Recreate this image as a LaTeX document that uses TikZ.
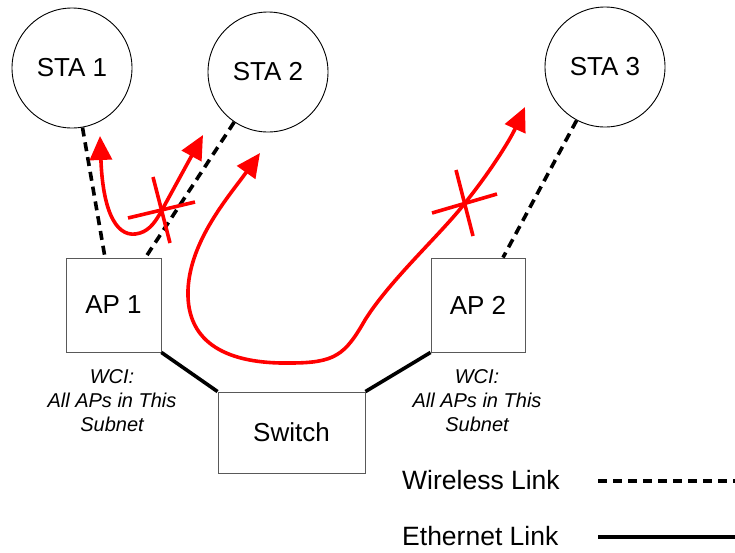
\documentclass[tikz,border=0pt]{standalone}
\usepackage{fontspec}
\setmainfont{Liberation Sans}
\usetikzlibrary{arrows.meta}
\begin{document}
\begin{tikzpicture}[x=1pt,y=-1pt,
  sta/.style={draw=black,line width=0.9pt,circle,minimum size=120pt,inner sep=0pt,font=\fontsize{26}{30}\selectfont},
  box/.style={draw=black!65,line width=0.9pt,rectangle,inner sep=0pt,font=\fontsize{26}{30}\selectfont},
  wireless/.style={line width=3.6pt,dash pattern=on 9pt off 6pt},
  ether/.style={line width=3.6pt},
  redarrow/.style={red,line width=3.6pt,{Triangle[length=24pt,width=22pt]}-{Triangle[length=24pt,width=22pt]}},
  cross/.style={red,line width=3.6pt},
  wci/.style={font=\fontsize{20}{24}\selectfont\itshape,align=center,inner sep=0pt},
  legendtext/.style={font=\fontsize{26.5}{30}\selectfont,anchor=west,inner sep=0pt}]
\useasboundingbox (0,0) rectangle (735,552);

\node[sta] (sta1) at (72,68) {STA 1};
\node[sta] (sta2) at (268,72) {STA 2};
\node[sta] (sta3) at (605,67) {STA 3};

\node[box,minimum width=95pt,minimum height=94pt] (ap1) at (113.5,305) {AP 1};
\node[box,minimum width=94pt,minimum height=94pt] (ap2) at (478,305) {AP 2};
\node[box,minimum width=147pt,minimum height=81pt] (sw) at (291.5,432.5) {Switch};

\node[wci] (wci1) at (112,401) {WCI:\\All APs in This\\Subnet};
\node[wci] (wci2) at (477,401) {WCI:\\All APs in This\\Subnet};

% wireless links
\draw[wireless] (sta1.-80) -- ([xshift=-8.5pt]ap1.north);
\draw[wireless] (sta2.-124) -- ([xshift=-16pt]ap1.north east);
\draw[wireless] (sta3.-118) -- ([xshift=25pt]ap2.north);

% ethernet links
\draw[ether] (ap1.south east) -- (sw.north west);
\draw[ether] (ap2.south west) -- (sw.north east);

% red arrows
\coordinate (r1a) at (100,136);
\coordinate (r1b) at (203,135);
\draw[redarrow] (r1a) .. controls (103,215) and (118,240) .. (140,233)
  .. controls (150,230) and (156,221) .. (162,210) -- (r1b);
\draw[cross] (128,218) -- (195,202);
\draw[cross] (153,177) -- (170,243);

\coordinate (r2a) at (260,153);
\coordinate (r2b) at (525,107);
\draw[redarrow] (r2a) .. controls (230,195) and (190,240) .. (188,290)
  .. controls (186,345) and (230,364) .. (290,363)
  .. controls (335,363) and (345,355) .. (365,320)
  .. controls (390,280) and (440,235) .. (465,203)
  .. controls (490,172) and (510,140) .. (r2b);
\draw[cross] (432,213) -- (497,194);
\draw[cross] (456,170) -- (473,236);

% legend
\node[legendtext] (lw) at (402,480) {Wireless Link};
\node[legendtext] (le) at (402,536) {Ethernet Link};
\coordinate (lw1) at (598,481);
\coordinate (lw2) at (735,481);
\coordinate (le1) at (598,537);
\coordinate (le2) at (735,537);
\draw[wireless] (lw1) -- (lw2);
\draw[ether] (le1) -- (le2);
\end{tikzpicture}
\end{document}
